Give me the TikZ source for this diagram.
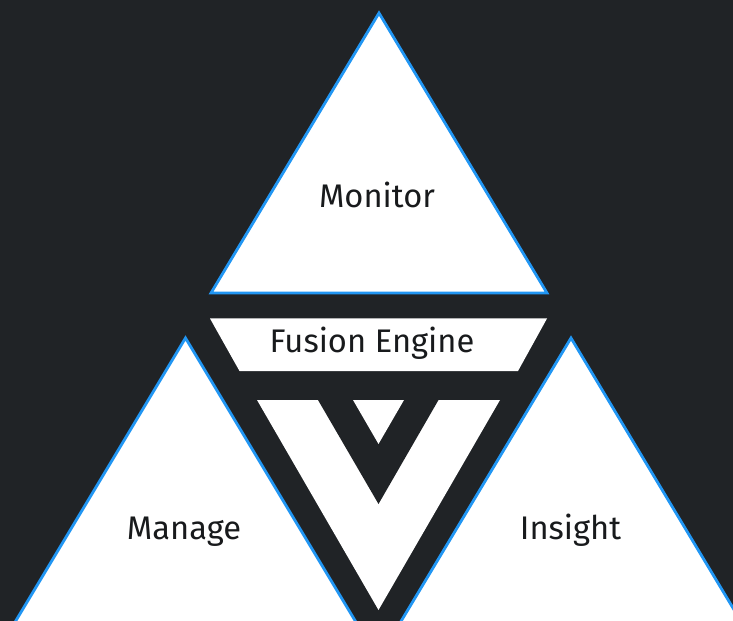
\documentclass[tikz,border=0pt]{standalone}
\usepackage{fontspec}
\setmainfont{Fira Sans}
\definecolor{slate}{RGB}{32,35,38}
\definecolor{edgeblue}{RGB}{33,150,243}
\definecolor{ink}{RGB}{24,26,28}

\begin{document}
\begin{tikzpicture}
        [
            x = 0.02cm, y = -0.02cm,
            facet/.style = {
                fill=white, draw=edgeblue, line width=1.6pt, line join=miter},
            core/.style = {fill=white},
            notch/.style = {fill=slate},
            caption/.style = {
                font=\fontsize{18.6}{22}\selectfont, text=ink,
                inner sep=0pt, anchor=base}
        ]
        % page size and dark backdrop
        \useasboundingbox (0,0) rectangle (733,621);
        \fill [slate] (0,0) rectangle (733,621);
        \clip (0,0) rectangle (733,621);

        % the three outer facets, the lower two run off the page
        \path [facet] (379,13) -- (547,293) -- (211,293) -- cycle;
        \path [facet] (185.5,338) -- (360.7,630) -- (10.3,630) -- cycle;
        \path [facet] (571,338) -- (746.2,630) -- (395.8,630) -- cycle;

        % engine band and the V mark below it
        \path [core] (210,318.5) -- (547,318.5) -- (518,371) -- (239.5,371) -- cycle;
        \path [core] (257,400) -- (500,400) -- (378.5,610) -- cycle;
        \path [notch] (318,400) -- (438.5,400) -- (378.5,504) -- cycle;
        \path [core] (353,400) -- (404,400) -- (378.5,444) -- cycle;

        \node [caption] (Monitor) at (377,208) {Monitor};
        \node [caption] (Fusion) at (372,352) {Fusion Engine};
        \node [caption] (Manage) at (184,539) {Manage};
        \node [caption] (Insight) at (570.5,539) {Insight};
    \end{tikzpicture}
\end{document}
